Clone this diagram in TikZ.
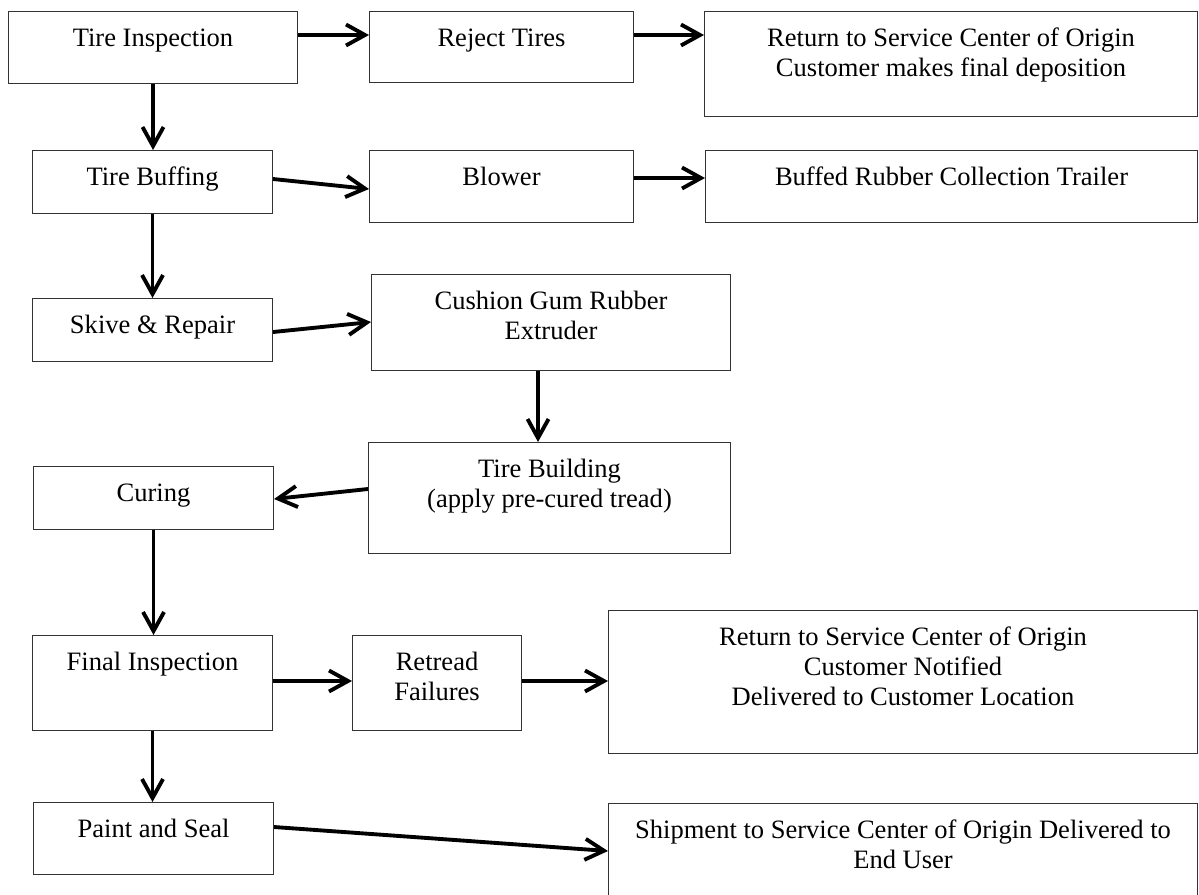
\documentclass[tikz,border=0pt]{standalone}
\usepackage{fontspec}
\setmainfont{Liberation Serif}
\usepgflibrary{arrows.meta}
\tikzset{
  stagebox/.style={draw=black!80, line width=0.6pt, inner sep=0pt},
  stagetext/.style={inner sep=0pt, align=center, font=\fontsize{15.1}{17}\selectfont},
  flow/.style={line width=2.2pt, -{Straight Barb[length=3.8mm,width=4.2mm]}}
}
\def\stage#1#2#3#4#5#6{
  % 1: name
  % 2: left (px)
  % 3: top (px)
  % 4: width (px)
  % 5: height (px)
  % 6: text
  \node[stagebox, anchor=north west, minimum width=#4*0.2mm, minimum height=#5*0.2mm] (#1) at (#2,#3) {};
  \node[stagetext, anchor=north] (#1-t) at ([yshift=-2.8mm]#1.north) {\strut #6};
}

\begin{document}
\begin{tikzpicture}[x=0.2mm,y=-0.2mm]
    \useasboundingbox (0,0) rectangle (1199,894);
    % \stage{name}{left}{top}{width}{height}{text}
    \stage{ti}{8}{11}{289}{72}{Tire Inspection}
    \stage{rt}{369}{11}{264}{71}{Reject Tires}
    \stage{ro}{704}{11}{493}{105}{Return to Service Center of Origin\\Customer makes final deposition}
    \stage{tb}{32}{150}{240}{63}{Tire Buffing}
    \stage{bl}{369}{150}{264}{72}{Blower}
    \stage{br}{705}{150}{492}{72}{Buffed Rubber Collection Trailer}
    \stage{sk}{32}{298}{240}{63}{Skive \& Repair}
    \stage{cg}{371}{274}{359}{96}{Cushion Gum Rubber\\Extruder}
    \stage{tbu}{368}{442}{362}{111}{Tire Building\\(apply pre-cured tread)}
    \stage{cu}{33}{466}{240}{63}{Curing}
    \stage{fi}{32}{635}{240}{95}{Final Inspection}
    \stage{rf}{352}{635}{169}{95}{Retread\\Failures}
    \stage{rn}{608}{610}{589}{143}{Return to Service Center of Origin\\Customer Notified\\Delivered to Customer Location}
    \stage{ps}{33}{802}{240}{72}{Paint and Seal}
    \stage{sh}{608}{803}{589}{110}{Shipment to Service Center of Origin Delivered to\\End User}

    % side branches
    \draw[flow] ([yshift=-4.8mm]ti.north east) -- ([yshift=-4.8mm]rt.north west);
    \draw[flow] ([yshift=-4.8mm]rt.north east) -- ([yshift=-4.8mm]ro.north west);
    \draw[flow] ([yshift=-5.8mm]tb.north east) -- ([yshift=-7.8mm]bl.north west);
    \draw[flow] ([yshift=-5.6mm]bl.north east) -- ([yshift=-5.6mm]br.north west);
    \draw[flow] ([yshift=-6.8mm]sk.north east) -- ([yshift=-9.6mm]cg.north west);
    \draw[flow] ([xshift=-2.6mm]cg.south) -- ([xshift=-2.6mm]cg.south |- tbu.north);
    \draw[flow] ([yshift=-9.4mm]tbu.north west) -- ([yshift=-6.6mm]cu.north east);
    \draw[flow] ([yshift=-9.2mm]fi.north east) -- ([yshift=-9.2mm]rf.north west);
    \draw[flow] ([yshift=-9.2mm]rf.north east) -- ([yshift=-14.2mm]rn.north west);
    \draw[flow] ([yshift=-5mm]ps.north east) -- ([yshift=-9.6mm]sh.north west);

    % main line
    \draw[flow] (ti.south) -- (ti.south |- tb.north);
    \draw[flow] (tb.south) -- (tb.south |- sk.north);
    \draw[flow] (cu.south) -- (cu.south |- fi.north);
    \draw[flow] (fi.south) -- (fi.south |- ps.north);
\end{tikzpicture}
\end{document}
